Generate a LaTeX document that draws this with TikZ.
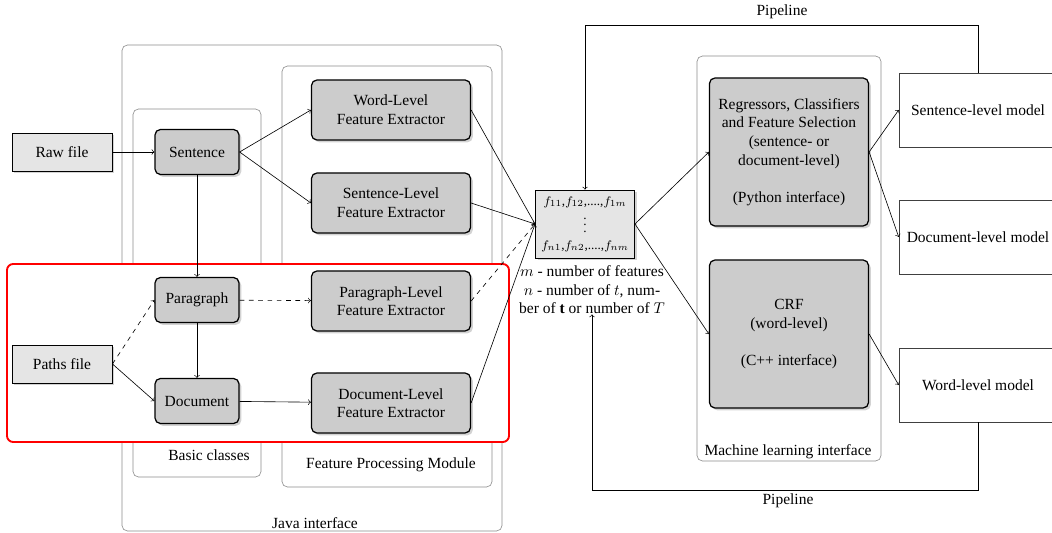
\documentclass[tikz,border=0pt]{standalone}
\usepackage{fontspec}
\setmainfont{Liberation Serif}
\usetikzlibrary{shadows,calc}
\def\px{0.645pt}
\begin{document}
\begin{tikzpicture}[x=0.645pt,y=-0.645pt,
  font=\fontsize{10}{12}\selectfont,
  group/.style={draw=black!45, rounded corners=3.5pt},
  shade/.style={drop shadow={shadow xshift=1.5pt, shadow yshift=-1.5pt, opacity=0.35}},
  unit/.style={draw, thick, fill=black!20, rounded corners=3.5pt, shade, align=center, inner sep=0pt},
  cls/.style={unit, minimum width=84*\px, minimum height=45*\px},
  extractor/.style={unit, minimum width=159*\px, minimum height=60*\px},
  learner/.style={unit, minimum width=159*\px, minimum height=148*\px},
  infile/.style={draw, semithick, fill=black!10, shade, inner sep=0pt, minimum width=100*\px, minimum height=38*\px},
  model/.style={draw=black!75, fill=white, inner sep=0pt, minimum width=158*\px, minimum height=74*\px},
  edge/.style={->},
  dedge/.style={->, dashed}]
\useasboundingbox (0,0) rectangle (1052,533);

% module containers
\draw[group] (122,45) rectangle (502,531);
\draw[group] (133,109) rectangle (261,477);
\draw[group] (282,66) rectangle (492,487);
\draw[group] (697,56) rectangle (881,461);
\node (javalbl) at (315,523) {Java interface};
\node (basiclbl) at (209,455) {Basic classes};
\node (fpmlbl) at (391,465) {Feature Processing Module};
\node (mllbl) at (788,452) {Machine learning interface};

% highlighted region
\draw[red, line width=1.2pt, fill=white, rounded corners=4pt] (7,264) rectangle (509,442);

% inputs
\node[infile] (raw) at (62,152) {Raw file};
\node[infile] (paths) at (62,364) {Paths file};

% basic classes
\node[cls] (sent) at (197,152) {Sentence};
\node[cls] (para) at (197,300) {Paragraph};
\node[cls] (doc) at (197,401) {Document};

% feature extractors
\node[extractor] (wfe) at (391,110) {Word-Level\\Feature Extractor};
\node[extractor] (sfe) at (391,203) {Sentence-Level\\Feature Extractor};
\node[extractor] (pfe) at (391,301) {Paragraph-Level\\Feature Extractor};
\node[extractor] (dfe) at (391,403) {Document-Level\\Feature Extractor};

% feature matrix
\node[draw, semithick, fill=black!10, shade, align=center, inner sep=0pt,
      font=\fontsize{8.5}{11}\selectfont,
      minimum width=99*\px, minimum height=68*\px] (feat) at (585,224)
  {$f_{11}$,$f_{12}$,....,$f_{1m}$\\$\vdots$\\$f_{n1}$,$f_{n2}$,....,$f_{nm}$};
\node[align=center, inner sep=0pt] (note) at (592,290)
  {$m$ - number of features\\$n$ - number of $t$, num-\\ber of $\mathbf{t}$ or number of $T$};

% learners
\node[learner] (reg) at (789,152) {Regressors, Classifiers\\and Feature Selection\\(sentence- or\\document-level)\\[12pt](Python interface)};
\node[learner] (crf) at (789,334) {CRF\\(word-level)\\[12pt](C++ interface)};

% models
\node[model] (smodel) at (978,110) {Sentence-level model};
\node[model] (dmodel) at (978,237) {Document-level model};
\node[model] (wmodel) at (978,385) {Word-level model};

% connectors
\draw[edge] (raw) -- (sent);
\draw[edge] (sent.east) -- (wfe.west);
\draw[edge] (sent.east) -- (sfe.west);
\draw[edge] (sent) -- (para);
\draw[edge] (para) -- (doc);
\draw[dedge] (paths.east) -- (para.west);
\draw[edge] (paths.east) -- (doc.west);
\draw[dedge] (para) -- (pfe);
\draw[edge] (doc) -- (dfe);
\draw[edge] (wfe.east) -- (feat.west);
\draw[edge] (sfe.east) -- (feat.west);
\draw[dedge] (pfe.east) -- (feat.west);
\draw[edge] (dfe.east) -- (feat.west);
\draw[edge] (feat.east) -- (reg.west);
\draw[edge] (feat.east) -- (crf.west);
\draw[edge] (reg.east) -- (smodel.west);
\draw[edge] (reg.east) -- (dmodel.west);
\draw[edge] (crf.east) -- (wmodel.west);

% pipeline loops
\coordinate (ptop) at (585,25);
\coordinate (pbot) at (592,490);
\draw[edge] (smodel.north) |- (ptop) -- (feat.north);
\draw[edge] (wmodel.south) |- (pbot) -- (note.south);
\node (pipetop) at (782,12) {Pipeline};
\node (pipebot) at (788,501) {Pipeline};
\end{tikzpicture}
\end{document}
